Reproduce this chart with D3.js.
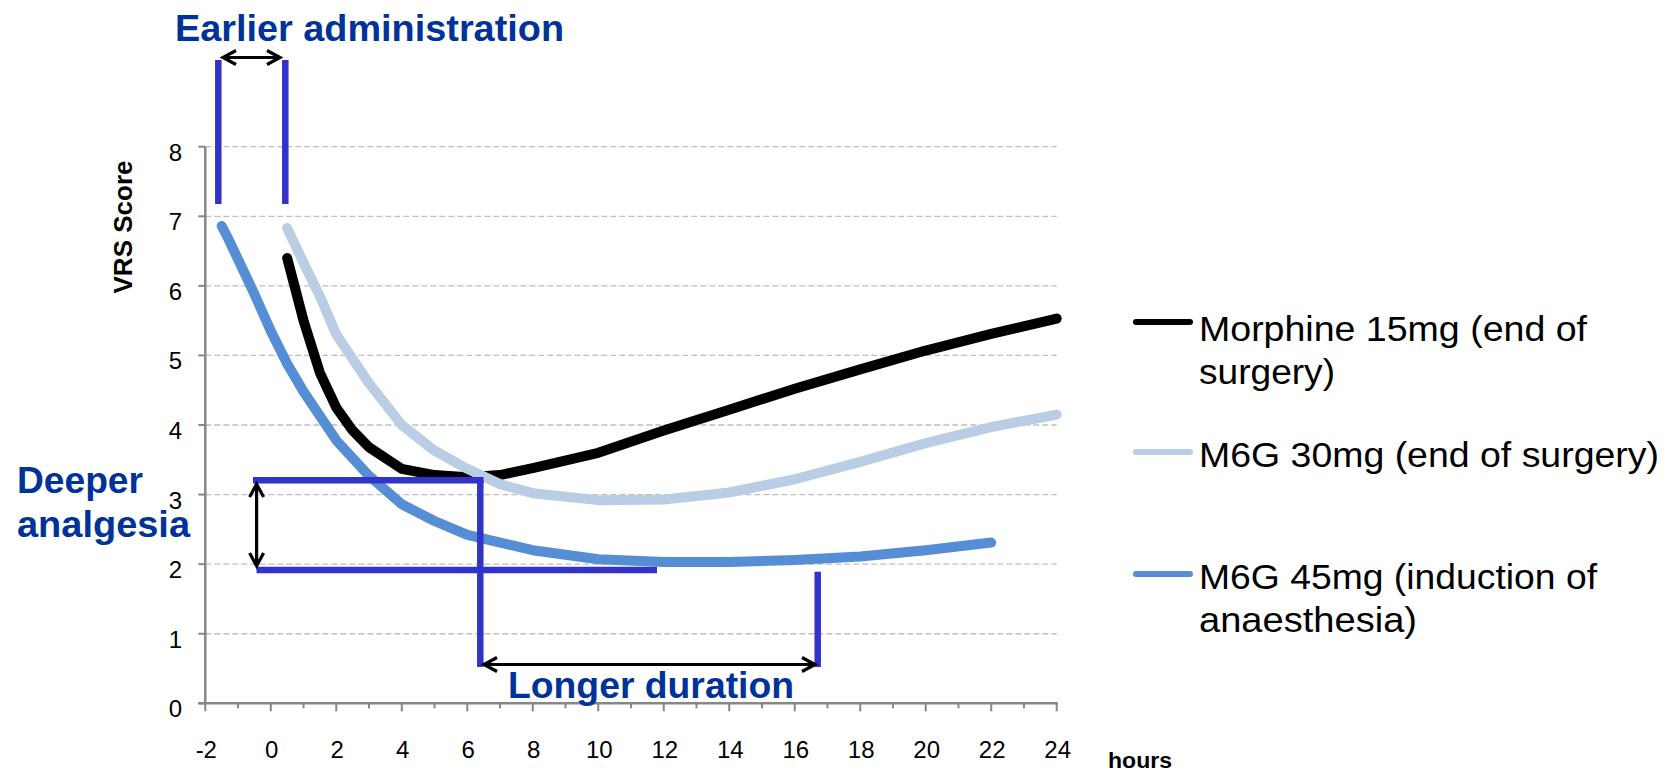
<!DOCTYPE html>
<html>
<head>
<meta charset="utf-8">
<script src="https://cdn.jsdelivr.net/npm/d3@7/dist/d3.min.js"></script>
<style>
  html, body { margin: 0; padding: 0; background: #fff; }
  svg { display: block; font-family: "Liberation Sans", Arial, sans-serif; }
</style>
</head>
<body>
<svg id="chart" width="1670" height="774"></svg>
<script>
// ---------- data ----------
const morphineHours = [0.5, 1, 1.5, 2, 2.5, 3, 4, 5, 6, 7, 8, 10, 12, 14, 16, 18, 20, 22, 24];
const morphineScore = [6.4, 5.5, 4.75, 4.25, 3.92, 3.68, 3.37, 3.28, 3.25, 3.28, 3.38, 3.6, 3.92, 4.22, 4.52, 4.8, 5.07, 5.31, 5.53];

const m6g30Hours = [0.5, 1, 1.5, 2, 3, 4, 5, 6, 7, 8, 10, 12, 14, 16, 18, 20, 22, 24];
const m6g30Score = [6.83, 6.33, 5.85, 5.3, 4.6, 4.0, 3.63, 3.37, 3.15, 3.02, 2.92, 2.93, 3.03, 3.22, 3.47, 3.74, 3.97, 4.15];

const m6g45Hours = [-1.5, -1.3, -1, -0.5, 0, 0.5, 1, 2, 3, 4, 5, 6, 8, 10, 12, 14, 16, 18, 20, 22];
const m6g45Score = [6.86, 6.68, 6.38, 5.88, 5.35, 4.88, 4.48, 3.78, 3.27, 2.86, 2.62, 2.42, 2.2, 2.07, 2.03, 2.03, 2.06, 2.11, 2.2, 2.31];

const seriesNames = ["Morphine 15mg (end of surgery)", "M6G 30mg (end of surgery)", "M6G 45mg (induction of anaesthesia)"];
const legendLines = [["Morphine 15mg (end of", "surgery)"], ["M6G 30mg (end of surgery)"], ["M6G 45mg (induction of", "anaesthesia)"]];
const xTickValues = [-2, 0, 2, 4, 6, 8, 10, 12, 14, 16, 18, 20, 22, 24];
const yTickValues = [0, 1, 2, 3, 4, 5, 6, 7, 8];
const yTitle = "VRS Score";
const xTitle = "hours";
const notes = ["Earlier administration", "Deeper", "analgesia", "Longer duration"];

// ---------- styles / layout ----------
const seriesColors = ["#000000", "#B9CDE5", "#558ED5"];
const noteBar = "#3333CC";
const noteText = "#003399";
const axisColor = "#878787";

const svg = d3.select("#chart");
const x = d3.scaleLinear().domain([-2, 24]).range([205.3, 1056.7]);
const y = d3.scaleLinear().domain([0, 8]).range([703.3, 146.7]);

function text(g, px, py, s, o) {
  const t = g.append("text").attr("x", px).attr("y", py).text(s)
    .attr("font-size", o.size).attr("fill", o.fill || "#000")
    .attr("font-weight", o.weight || "normal")
    .attr("text-anchor", o.anchor || "start");
  if (o.len) t.attr("textLength", o.len).attr("lengthAdjust", "spacingAndGlyphs");
  return t;
}

// gridlines
const grid = svg.append("g");
grid.selectAll("line").data(yTickValues.filter(v => v > 0)).join("line")
  .attr("x1", x(-2)).attr("x2", x(24))
  .attr("y1", d => y(d)).attr("y2", d => y(d))
  .attr("stroke", "#BFBFBF").attr("stroke-width", 1.3).attr("stroke-dasharray", "6,3");

// axes
const axes = svg.append("g");
axes.append("line").attr("x1", x(-2)).attr("x2", x(-2)).attr("y1", y(0) + 1).attr("y2", y(8))
  .attr("stroke", axisColor).attr("stroke-width", 2.5);
axes.append("line").attr("x1", x(-2) - 7).attr("x2", x(24) + 1).attr("y1", y(0)).attr("y2", y(0))
  .attr("stroke", axisColor).attr("stroke-width", 2.5);
axes.selectAll(".yt").data(yTickValues).join("line").attr("class", "yt")
  .attr("x1", x(-2) - 7).attr("x2", x(-2)).attr("y1", d => y(d)).attr("y2", d => y(d))
  .attr("stroke", axisColor).attr("stroke-width", 2);
const hourTicks = d3.range(-2, 25, 1);
axes.selectAll(".xt").data(hourTicks).join("line").attr("class", "xt")
  .attr("x1", d => x(d)).attr("x2", d => x(d)).attr("y1", y(0))
  .attr("y2", d => y(0) + (d % 2 === 0 ? 8 : 5))
  .attr("stroke", axisColor).attr("stroke-width", 2);

yTickValues.forEach(v => text(axes, 182, y(v) + 14, String(v), {size: 24, anchor: "end"}));
xTickValues.forEach(v => text(axes, x(v) + 1, 758, String(v), {size: 24, anchor: "middle"}));

text(axes, 0, 0, yTitle, {size: 26, weight: "bold", anchor: "middle"})
  .attr("transform", "translate(132,227) rotate(-90)");
text(axes, 1108, 768, xTitle, {size: 22, weight: "bold", len: 64});

// series
const series = [
  {h: morphineHours, v: morphineScore},
  {h: m6g30Hours, v: m6g30Score},
  {h: m6g45Hours, v: m6g45Score}
];
const line = d3.line().x(d => x(d[0])).y(d => y(d[1]));
const lines = svg.append("g");
series.forEach((s, i) => {
  lines.append("path").datum(s.h.map((h, k) => [h, s.v[k]]))
    .attr("d", line).attr("fill", "none")
    .attr("stroke", seriesColors[i]).attr("stroke-width", 10)
    .attr("stroke-linejoin", "round").attr("stroke-linecap", "round");
});

// legend
const leg = svg.append("g");
const legendY = [322, 452, 574];
const legendBase = [341, 467, 589];
const legendWidths = [[388, 136], [460], [398, 218]];
legendLines.forEach((ls, i) => {
  leg.append("line").attr("x1", 1136).attr("x2", 1190)
    .attr("y1", legendY[i]).attr("y2", legendY[i])
    .attr("stroke", seriesColors[i]).attr("stroke-width", 6).attr("stroke-linecap", "round");
  ls.forEach((s, j) => text(leg, 1199, legendBase[i] + j * 43, s, {size: 35, len: legendWidths[i][j]}));
});

// annotations
const ann = svg.append("g");
function bar(x1, y1, x2, y2) {
  ann.append("line").attr("x1", x1).attr("y1", y1).attr("x2", x2).attr("y2", y2)
    .attr("stroke", noteBar).attr("stroke-width", 6.5);
}
function arrow(x1, y1, x2, y2) {
  const a = Math.atan2(y2 - y1, x2 - x1), L = 13, W = 7;
  const ux = Math.cos(a), uy = Math.sin(a), nx = -uy, ny = ux;
  const p = d3.path();
  p.moveTo(x1, y1); p.lineTo(x2, y2);
  p.moveTo(x1 + L * ux + W * nx, y1 + L * uy + W * ny); p.lineTo(x1, y1); p.lineTo(x1 + L * ux - W * nx, y1 + L * uy - W * ny);
  p.moveTo(x2 - L * ux + W * nx, y2 - L * uy + W * ny); p.lineTo(x2, y2); p.lineTo(x2 - L * ux - W * nx, y2 - L * uy - W * ny);
  ann.append("path").attr("d", p.toString()).attr("fill", "none")
    .attr("stroke", "#000").attr("stroke-width", 3.2).attr("stroke-linejoin", "miter");
}
// earlier administration
bar(218.3, 60, 218.3, 204);
bar(285.3, 60, 285.3, 204);
arrow(223, 57.5, 280, 57.5);
text(ann, 175, 41, notes[0], {size: 36, weight: "bold", fill: noteText, len: 389});
// deeper analgesia
bar(253, 480.3, 483.5, 480.3);
bar(480.3, 480, 480.3, 667);
bar(256.5, 570, 657, 570);
arrow(256.6, 484, 256.6, 566);
text(ann, 17, 493, notes[1], {size: 36, weight: "bold", fill: noteText, len: 126});
text(ann, 17, 537, notes[2], {size: 36, weight: "bold", fill: noteText, len: 173});
// longer duration
bar(817.7, 571.7, 817.7, 667);
arrow(484, 664.5, 815, 664.5);
text(ann, 508, 698, notes[3], {size: 36, weight: "bold", fill: noteText, len: 286});
</script>
</body>
</html>
